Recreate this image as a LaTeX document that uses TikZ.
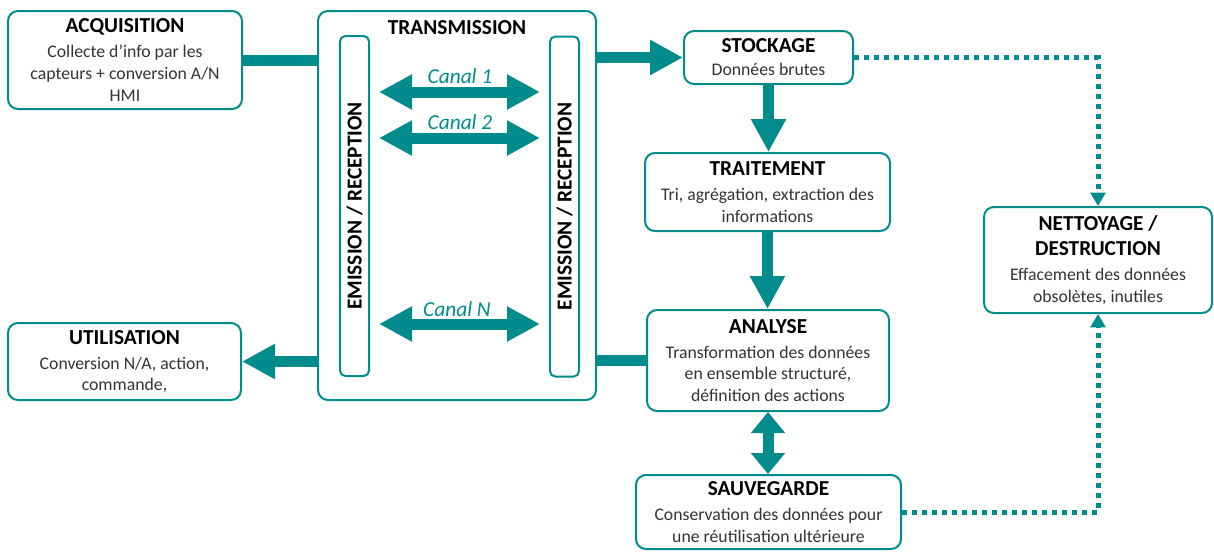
\documentclass[tikz,border=0pt]{standalone}
\usepackage{fontspec}
\setmainfont{Carlito}
\usepackage{graphicx}
\usetikzlibrary{arrows.meta}
\definecolor{petrole}{RGB}{0,140,140}
\newcommand{\ttl}[1]{{\fontsize{16}{19}\selectfont\bfseries\color{black}#1}}

\begin{document}
\begin{tikzpicture}[x=0.75pt, y=-0.75pt,
    box/.style={draw=petrole, line width=1.5pt, rounded corners=7.5pt, align=center, inner sep=0pt,
        text=black!80, font=\fontsize{13.3}{16.2}\selectfont},
    bar/.style={box, rounded corners=4pt, minimum width=21.75pt, minimum height=255pt},
    fat/.style={draw=petrole, line width=8.25pt, -{Triangle[length=24.75pt, width=24.75pt]}},
    pipe/.style={draw=petrole, line width=8.25pt},
    duo/.style={draw=petrole, line width=8.25pt, {Triangle[length=24.75pt, width=24.75pt]}-{Triangle[length=24.75pt, width=24.75pt]}},
    dots/.style={draw=petrole, line width=3.75pt, dash pattern=on 3.75pt off 3.75pt, -{Triangle[length=10pt, width=11pt]}},
    canal/.style={text=petrole, font=\fontsize{16}{19}\selectfont\itshape}]
    \useasboundingbox (0,0) rectangle (1214,551);

    \node[box, minimum width=175.5pt, minimum height=73.5pt] (acq) at (125,60)
        {\ttl{ACQUISITION}\\[2.5pt]Collecte d’info par les\\capteurs + conversion A/N\\HMI};
    \node[box, minimum width=174.75pt, minimum height=57.75pt] (uti) at (124.5,361.5)
        {\ttl{UTILISATION}\\[2.5pt]Conversion N/A, action,\\commande,};
    \node[box, minimum width=208.5pt, minimum height=291.75pt] (trans) at (457,205.5) {};
    \node (ttrans) at (457,28) {\ttl{TRANSMISSION}};
    \node[bar] (erl) at (354.5,206) {\rotatebox{90}{\ttl{EMISSION / RECEPTION}}};
    \node[bar] (err) at (564.5,206.5) {\rotatebox{90}{\ttl{EMISSION / RECEPTION}}};
    \node[box, minimum width=126.75pt, minimum height=39.75pt] (sto) at (768.5,57.5)
        {\ttl{STOCKAGE}\\[1pt]Données brutes};
    \node[box, minimum width=183.75pt, minimum height=58.5pt] (tra) at (767.5,192)
        {\ttl{TRAITEMENT}\\[2.5pt]Tri, agrégation, extraction des\\informations};
    \node[box, minimum width=181.5pt, minimum height=75.75pt] (ana) at (768,360.5)
        {\ttl{ANALYSE}\\[2.5pt]Transformation des données\\en ensemble structuré,\\définition des actions};
    \node[box, minimum width=198.75pt, minimum height=55.5pt] (sau) at (768.5,512)
        {\ttl{SAUVEGARDE}\\[2.5pt]Conservation des données pour\\une réutilisation ultérieure};
    \node[box, minimum width=171pt, minimum height=79.5pt] (net) at (1098,260)
        {\ttl{NETTOYAGE /}\\[3pt]\ttl{DESTRUCTION}\\[2.5pt]Effacement des données\\obsolètes, inutiles};

    \coordinate (k1) at (457,92);
    \coordinate (k2) at (457,138);
    \coordinate (kn) at (457,324);
    \node[canal] (c1) at (460,76) {Canal 1};
    \node[canal] (c2) at (460,122) {Canal 2};
    \node[canal] (cn) at (457,309) {Canal N};
    \draw[duo, shorten <=6.75pt, shorten >=6.75pt] (erl.east |- k1) -- (err.west |- k1);
    \draw[duo, shorten <=6.75pt, shorten >=6.75pt] (erl.east |- k2) -- (err.west |- k2);
    \draw[duo, shorten <=6.75pt, shorten >=6.75pt] (erl.east |- kn) -- (err.west |- kn);

    \draw[pipe] (acq.east) -- (acq.east -| trans.west);
    \draw[fat] (trans.east |- sto.west) -- (sto.west);
    \draw[pipe] (ana.west) -- (ana.west -| trans.east);
    \draw[fat] (uti.east -| trans.west) -- (uti.east);
    \draw[fat] (sto.south) -- (sto.south |- tra.north);
    \draw[fat] (tra.south) -- (tra.south |- ana.north);
    \draw[pipe, {Triangle[length=15.75pt, width=24.75pt]}-{Triangle[length=15.75pt, width=24.75pt]}] (ana.south) -- (ana.south |- sau.north);
    \draw[dots] (sto.east) -| (net.north);
    \draw[dots] (sau.east) -| (net.south);
\end{tikzpicture}
\end{document}
